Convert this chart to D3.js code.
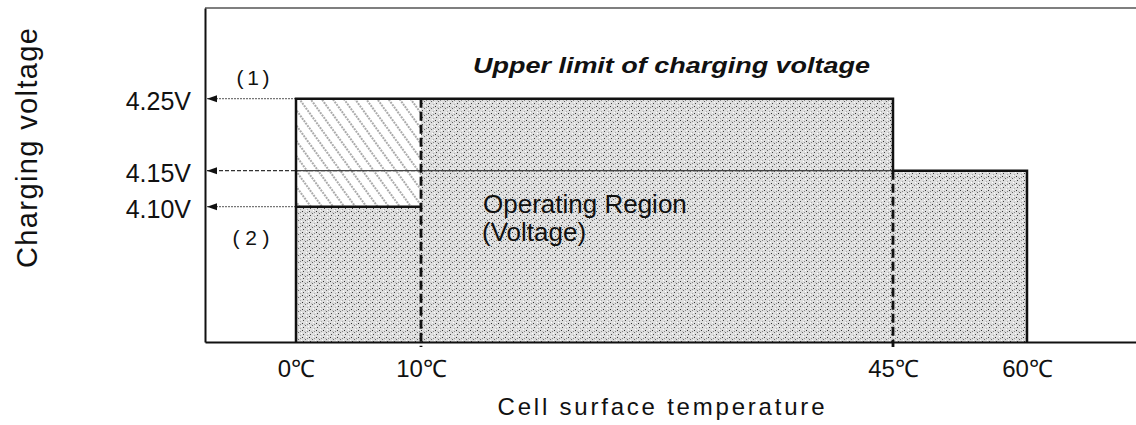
<!DOCTYPE html>
<html>
<head>
<meta charset="utf-8">
<script src="https://cdn.jsdelivr.net/npm/d3@7"></script>
<style>
  body { margin: 0; background: #fff; }
  text { font-family: "Liberation Sans", Arial, sans-serif; fill: #111; }
</style>
</head>
<body>
<div id="vis"></div>
<script>
// temperature ticks (deg C) and voltage ticks (V)
const tempTicks = [0, 10, 45, 60];
const voltTicks = [4.10, 4.15, 4.25];

// charging segments along temperature
const segStart = [0, 10, 45];
const segEnd = [10, 45, 60];
const upperLimit = [4.25, 4.25, 4.15]; // (1) upper limit of charging voltage
const operating = [4.10, 4.25, 4.15];  // (2) operating region top

const W = 1136, H = 425;

let svg = d3.select("#vis").append("svg")
  .attr("width", W).attr("height", H);

// temperature axis is not evenly spaced in the original drawing
let x = d3.scaleLinear()
  .domain([-7.3, 0, 10, 45, 60, 72.2])
  .range([205, 296, 421, 893, 1027, 1136]);

let y = d3.scaleLinear()
  .domain([3.912, 4.376])
  .range([342, 8]);

const vMin = y.domain()[0];

let defs = svg.append("defs");

// grey stipple texture
let stip = defs.append("pattern")
  .attr("id", "stipple")
  .attr("patternUnits", "userSpaceOnUse")
  .attr("width", 7).attr("height", 7);
stip.append("rect").attr("width", 7).attr("height", 7).attr("fill", "#dedede");
[[1, 1, "#333"], [4, 3, "#666"], [2, 5, "#444"], [6, 6, "#aaa"],
 [5, 0, "#fff"], [0, 4, "#fff"], [3, 2, "#bbb"], [6, 2, "#888"]]
  .forEach(d => {
    stip.append("rect").attr("x", d[0]).attr("y", d[1])
      .attr("width", 1).attr("height", 1).attr("fill", d[2]);
  });

// diagonal hatch texture
let hatch = defs.append("pattern")
  .attr("id", "hatch")
  .attr("patternUnits", "userSpaceOnUse")
  .attr("width", 9).attr("height", 9)
  .attr("patternTransform", "rotate(-36)");
hatch.append("rect").attr("width", 9).attr("height", 9).attr("fill", "#fff");
hatch.append("line")
  .attr("x1", 4).attr("y1", 0).attr("x2", 4).attr("y2", 9)
  .attr("stroke", "#555").attr("stroke-width", 1)
  .attr("stroke-dasharray", "2,1");

const idx = d3.range(segStart.length);

// operating region
svg.selectAll("rect.op").data(idx).enter().append("rect")
  .attr("class", "op")
  .attr("x", i => x(segStart[i]))
  .attr("y", i => y(operating[i]))
  .attr("width", i => x(segEnd[i]) - x(segStart[i]))
  .attr("height", i => y(vMin) - y(operating[i]))
  .attr("fill", "url(#stipple)");

// band between operating region and upper limit
svg.selectAll("rect.hatch").data(idx.filter(i => operating[i] < upperLimit[i])).enter().append("rect")
  .attr("class", "hatch")
  .attr("x", i => x(segStart[i]))
  .attr("y", i => y(upperLimit[i]))
  .attr("width", i => x(segEnd[i]) - x(segStart[i]))
  .attr("height", i => y(operating[i]) - y(upperLimit[i]))
  .attr("fill", "url(#hatch)");

// reference lines from the voltage axis
function refEnd(v) {
  let i = idx.find(k => upperLimit[k] === v || operating[k] === v);
  return segStart[i];
}
svg.selectAll("line.ref").data(voltTicks).enter().append("line")
  .attr("class", "ref")
  .attr("x1", x.range()[0] + 2)
  .attr("x2", v => x(refEnd(v)))
  .attr("y1", v => y(v)).attr("y2", v => y(v))
  .attr("stroke", v => v === 4.15 ? "#333" : "#777")
  .attr("stroke-width", 1.2)
  .attr("stroke-dasharray", v => v === 4.15 ? "4,2" : "2,1");

// 4.15V line continues across the 0-45 region
svg.append("line")
  .attr("x1", x(segStart[0])).attr("x2", x(segStart[2]))
  .attr("y1", y(4.15)).attr("y2", y(4.15))
  .attr("stroke", "#444").attr("stroke-width", 1.2);

// small arrowheads at the axis
svg.selectAll("path.arrow").data(voltTicks).enter().append("path")
  .attr("class", "arrow")
  .attr("d", v => {
    let x0 = x.range()[0] + 2, yy = y(v);
    return `M${x0},${yy} L${x0 + 10},${yy - 3.5} L${x0 + 10},${yy + 3.5} Z`;
  })
  .attr("fill", "#111");

// lower edge of the hatched band
svg.selectAll("line.opTop").data(idx.filter(i => operating[i] < upperLimit[i])).enter().append("line")
  .attr("class", "opTop")
  .attr("x1", i => x(segStart[i])).attr("x2", i => x(segEnd[i]))
  .attr("y1", i => y(operating[i])).attr("y2", i => y(operating[i]))
  .attr("stroke", "#111").attr("stroke-width", 2.5);

// dashed boundaries between segments
svg.selectAll("line.bound").data(idx.slice(1)).enter().append("line")
  .attr("class", "bound")
  .attr("x1", i => x(segStart[i])).attr("x2", i => x(segStart[i]))
  .attr("y1", i => y(Math.min(upperLimit[i], upperLimit[i - 1])))
  .attr("y2", y(vMin) + 5)
  .attr("stroke", "#111").attr("stroke-width", 2.8)
  .attr("stroke-dasharray", "9,4");

// outline of the upper limit
let outline = [[segStart[0], vMin]];
idx.forEach(i => { outline.push([segStart[i], upperLimit[i]]); outline.push([segEnd[i], upperLimit[i]]); });
outline.push([segEnd[segEnd.length - 1], vMin]);
svg.append("path")
  .attr("d", d3.line().x(d => x(d[0])).y(d => y(d[1]))(outline))
  .attr("fill", "none")
  .attr("stroke", "#111").attr("stroke-width", 2.5);

// frame top
svg.append("line")
  .attr("x1", x.range()[0]).attr("x2", W)
  .attr("y1", y.range()[1]).attr("y2", y.range()[1])
  .attr("stroke", "#555").attr("stroke-width", 1.5);

// axes
let xAxis = svg.append("g")
  .attr("transform", `translate(0,${y(vMin)})`)
  .call(d3.axisBottom(x).tickValues(tempTicks).tickSize(0).tickSizeOuter(0)
    .tickPadding(18).tickFormat(d => d + "\u2103"));
xAxis.select(".domain").attr("stroke", "#111").attr("stroke-width", 2);
xAxis.selectAll("text").attr("font-size", 24)
  .style("font-family", "'Liberation Sans', Arial, sans-serif").attr("fill", "#111");

let yAxis = svg.append("g")
  .attr("transform", `translate(${x.range()[0]},0)`)
  .call(d3.axisLeft(y).tickValues(voltTicks).tickSize(0).tickSizeOuter(0)
    .tickPadding(14).tickFormat(d => d.toFixed(2) + "V"));
yAxis.select(".domain").attr("stroke", "#111").attr("stroke-width", 2);
yAxis.selectAll("text").attr("font-size", 25).attr("dy", "0.45em")
  .style("font-family", "'Liberation Sans', Arial, sans-serif").attr("fill", "#111");

// axis titles
svg.append("text")
  .attr("transform", "translate(37,148) rotate(-90)")
  .attr("text-anchor", "middle")
  .attr("font-size", 29)
  .attr("textLength", 240).attr("lengthAdjust", "spacing")
  .text("Charging voltage");

svg.append("text")
  .attr("x", 661).attr("y", 415)
  .attr("text-anchor", "middle")
  .attr("font-size", 24)
  .attr("textLength", 327).attr("lengthAdjust", "spacing")
  .text("Cell surface temperature");

// annotations
svg.append("text")
  .attr("x", 473).attr("y", 73)
  .attr("font-size", 22).attr("font-weight", "bold").attr("font-style", "italic")
  .attr("textLength", 397).attr("lengthAdjust", "spacingAndGlyphs")
  .text("Upper limit of charging voltage");

svg.append("text")
  .attr("x", 253).attr("y", 85).attr("text-anchor", "middle")
  .attr("font-size", 21)
  .attr("textLength", 33).attr("lengthAdjust", "spacing")
  .text("(1)");

svg.append("text")
  .attr("x", 251).attr("y", 245).attr("text-anchor", "middle")
  .attr("font-size", 21)
  .attr("textLength", 37).attr("lengthAdjust", "spacing")
  .text("(2)");

svg.append("text")
  .attr("x", 483).attr("y", 213)
  .attr("font-size", 26)
  .text("Operating Region");

svg.append("text")
  .attr("x", 482).attr("y", 241)
  .attr("font-size", 26)
  .text("(Voltage)");
</script>
</body>
</html>
